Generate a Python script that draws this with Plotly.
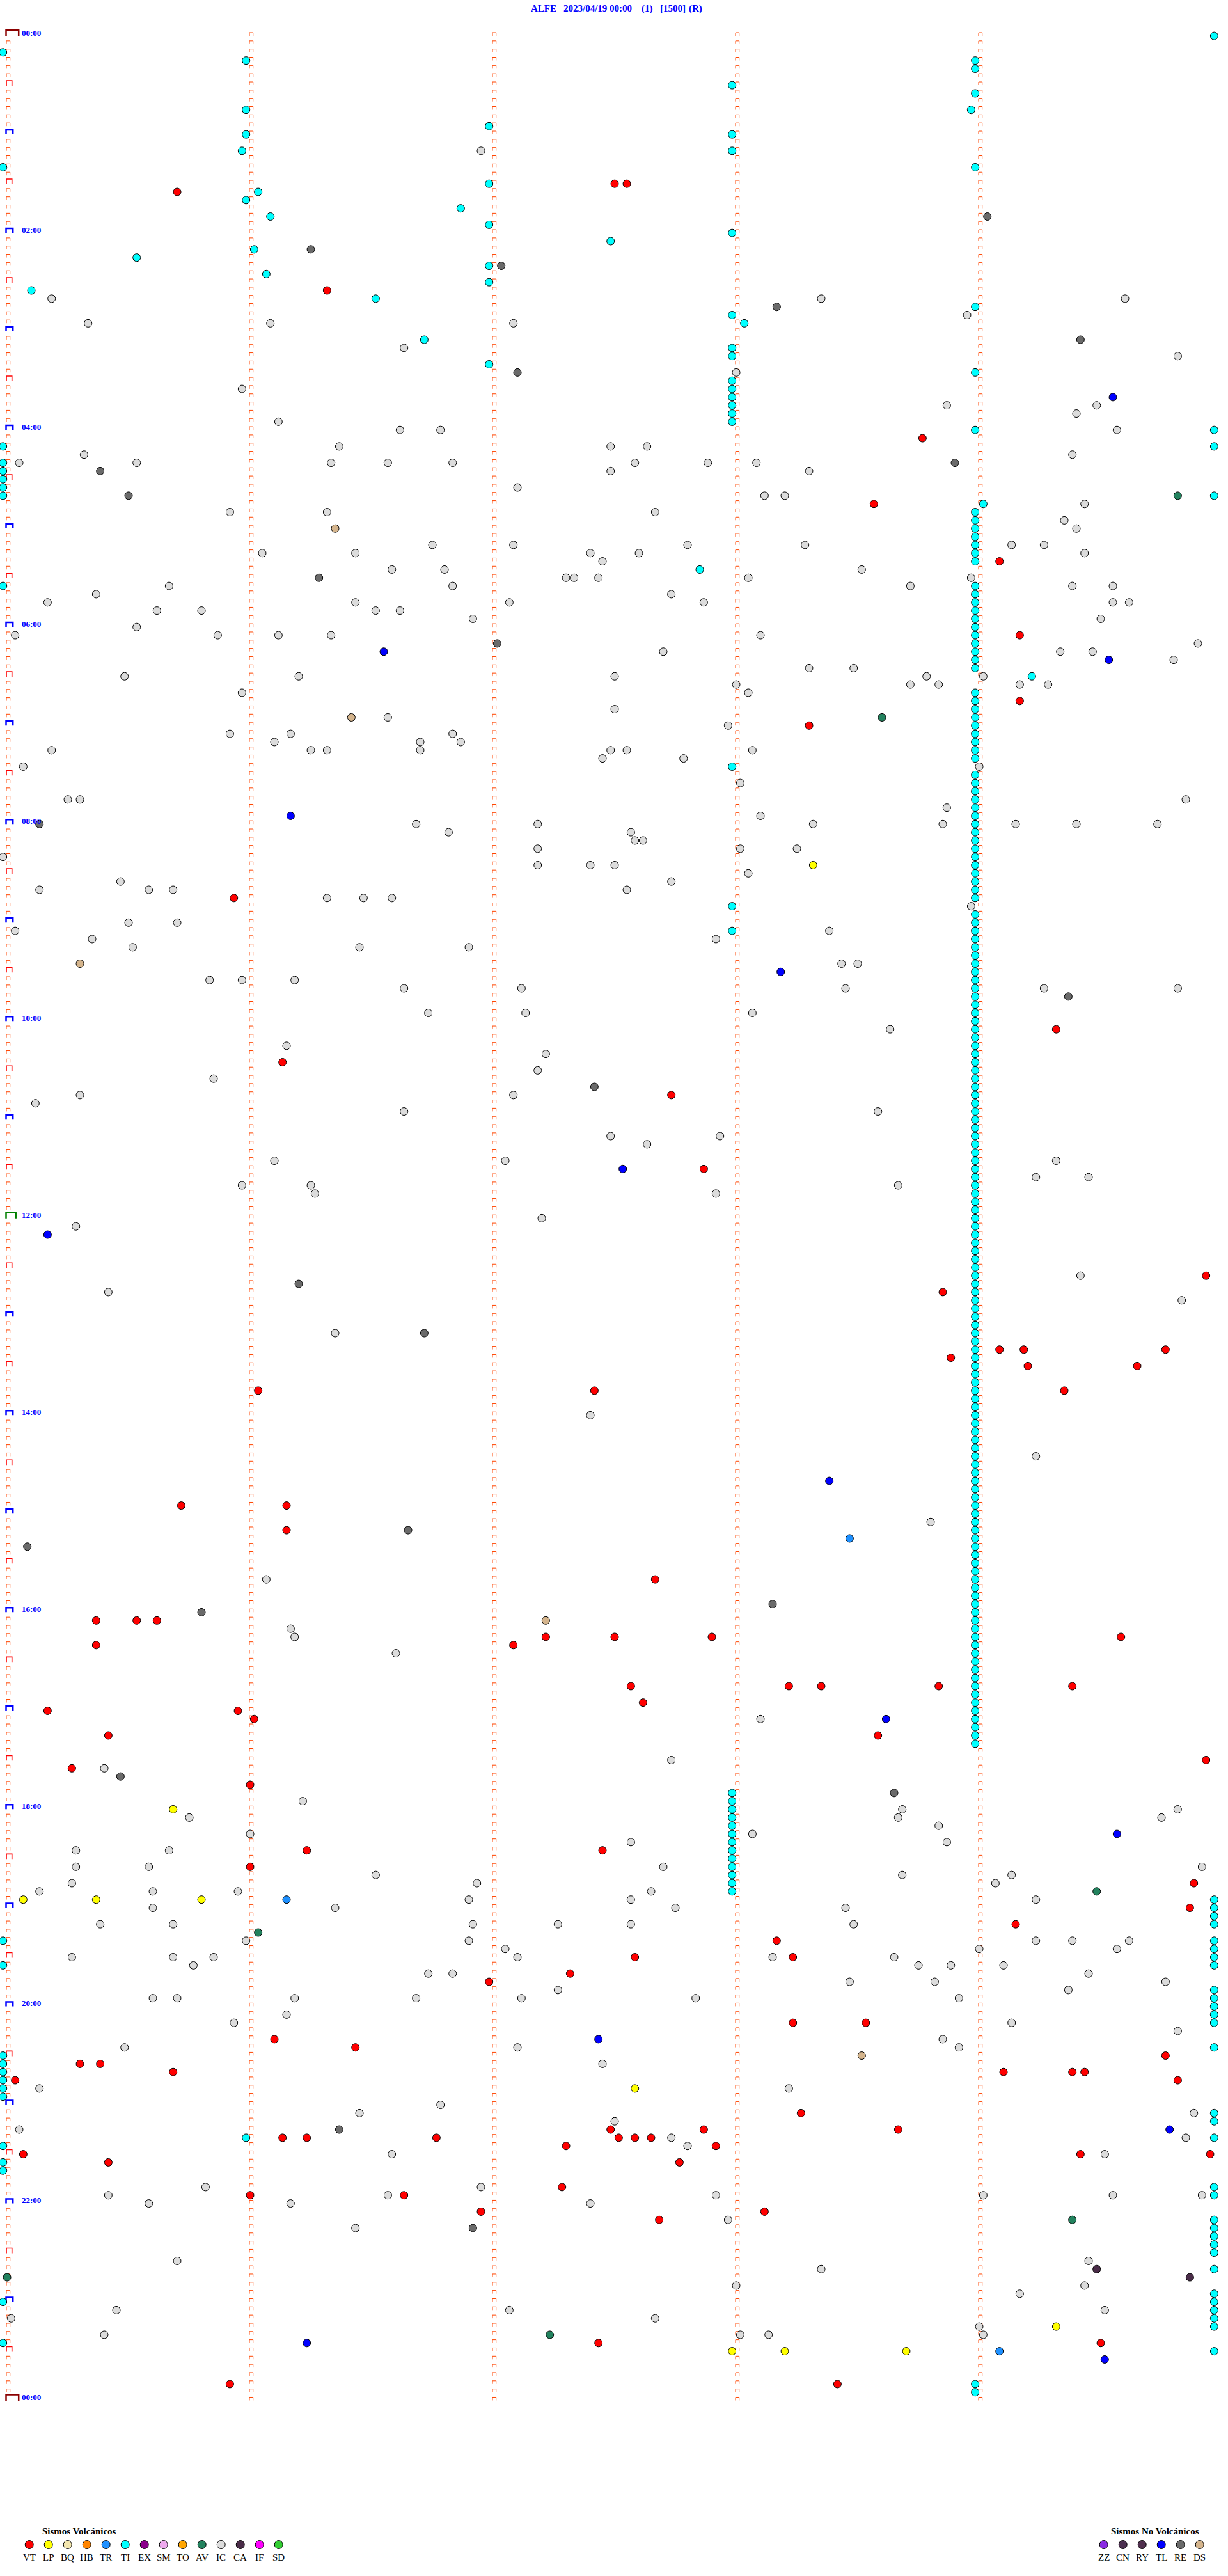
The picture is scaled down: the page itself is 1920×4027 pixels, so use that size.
import plotly.graph_objects as go

# ---------------- data ----------------
estacion = "ALFE"
fecha = "2023/04/19 00:00"
titulo_partes = ["ALFE", "2023/04/19 00:00", "(1)", "[1500]", "(R)"]

horas_etiquetas = ["00:00", "02:00", "04:00", "06:00", "08:00", "10:00", "12:00",
                   "14:00", "16:00", "18:00", "20:00", "22:00", "00:00"]
minutos_etiquetas = [0, 120, 240, 360, 480, 600, 720, 840, 960, 1080, 1200, 1320, 1440]

tipos_volcanicos = ["VT", "LP", "BQ", "HB", "TR", "TI", "EX", "SM", "TO", "AV", "IC", "CA", "IF", "SD"]
tipos_no_volcanicos = ["ZZ", "CN", "RY", "TL", "RE", "DS"]
colores = {
    "VT": "#FF0000", "LP": "#FFFF00", "BQ": "#F3E6AE", "HB": "#FF8400", "TR": "#1E90FF",
    "TI": "#00FFFF", "EX": "#8B008B", "SM": "#EEAAEE", "TO": "#FFA500", "AV": "#23825E",
    "IC": "#DCDCDC", "CA": "#4A2C48", "IF": "#FF00FF", "SD": "#32CD32",
    "ZZ": "#8A2BE2", "CN": "#4C3050", "RY": "#50304E", "TL": "#0000FF", "RE": "#6A6A6A", "DS": "#D4B48C",
}

# event times (HH:MM:SS)
TI = ["00:04:59", "00:10:00", "00:16:00", "00:19:00", "00:24:00", "00:33:00", "00:39:00", "00:46:00",
      "00:48:59", "00:57:00", "01:01:00", "01:03:00", "01:10:59", "01:13:00", "01:20:00", "01:24:00",
      "01:32:00", "01:36:03", "01:41:00", "01:46:53", "01:51:06", "01:57:00", "02:03:00", "02:07:30",
      "02:11:02", "02:15:33", "02:22:00", "02:26:05", "02:32:00", "02:35:07", "02:41:32", "02:49:00",
      "02:53:00", "02:58:03", "03:06:44", "03:13:00", "03:18:00", "03:22:00", "03:29:00", "03:33:00",
      "03:38:00", "03:43:00", "03:48:00", "03:53:00", "03:58:00", "04:04:00", "04:04:59", "04:10:00",
      "04:14:59", "04:20:00", "04:25:00", "04:30:00", "04:35:00", "04:40:00", "04:44:59", "04:49:02",
      "04:54:00", "04:59:00", "05:04:00", "05:09:00", "05:14:00", "05:19:00", "05:24:00", "05:27:52",
      "05:35:00", "05:39:00", "05:44:00", "05:49:00", "05:54:00", "05:59:00",
      "06:34:14", "07:28:00", "08:53:00", "09:08:00",
      "17:53:00", "17:58:00", "18:03:00", "18:08:00", "18:13:00", "18:18:00", "18:23:00", "18:28:00",
      "18:33:00", "18:38:00", "18:43:00", "18:48:00", "18:53:00",
      "18:59:59", "19:04:59", "19:09:59", "19:14:59", "19:24:59", "19:29:59", "19:34:59", "19:39:59",
      "19:54:59", "19:59:59", "20:04:59", "20:09:59", "20:14:59", "20:29:59", "21:09:59", "21:14:59",
      "21:24:59", "21:54:59", "21:59:59", "22:14:59", "22:19:59", "22:24:59", "22:29:59", "22:34:59",
      "22:44:59", "22:59:59", "23:04:59", "23:09:59", "23:14:59", "23:19:59", "23:34:59",
      "19:20:00", "19:35:00", "20:30:00", "20:35:00", "20:40:00", "20:45:00", "20:50:00", "20:55:00",
      "21:25:00", "21:35:00", "21:40:00", "23:00:00", "23:25:00",
      "21:21:00", "23:54:00", "23:59:00"]

TI_columna = ["06:04", "06:09", "06:14", "06:19", "06:24", "06:29", "06:44", "06:49", "06:54", "06:59",
              "07:04", "07:09", "07:14", "07:19", "07:24", "07:34", "07:39", "07:44", "07:49", "07:54", "07:59",
              "08:04", "08:09", "08:14", "08:19", "08:24", "08:29", "08:34", "08:39", "08:44", "08:49", "08:59",
              "09:04", "09:09", "09:14", "09:19", "09:24", "09:29", "09:34", "09:39", "09:44", "09:49", "09:54", "09:59",
              "10:04", "10:09", "10:14", "10:19", "10:24", "10:29", "10:34", "10:39", "10:44", "10:49", "10:54", "10:59",
              "11:04", "11:09", "11:14", "11:19", "11:24", "11:29", "11:34", "11:39", "11:44", "11:49", "11:54", "11:59",
              "12:04", "12:09", "12:14", "12:19", "12:24", "12:29", "12:34", "12:39", "12:44", "12:49", "12:54", "12:59",
              "13:04", "13:09", "13:14", "13:19", "13:24", "13:29", "13:34", "13:39", "13:44", "13:49", "13:54", "13:59",
              "14:04", "14:09", "14:14", "14:19", "14:24", "14:29", "14:34", "14:39", "14:44", "14:49", "14:54", "14:59",
              "15:04", "15:09", "15:14", "15:19", "15:24", "15:29", "15:34", "15:39", "15:44", "15:49", "15:54", "15:59",
              "16:04", "16:09", "16:14", "16:19", "16:24", "16:29", "16:34", "16:39", "16:44", "16:49", "16:54", "16:59",
              "17:04", "17:09", "17:14", "17:19", "17:24"]

IC = ["01:11:58", "02:40:12", "02:43:22", "02:44:37", "02:53:58", "02:55:21", "02:56:06", "02:57:06",
      "03:11:39", "03:19:50", "03:28:01", "03:35:59", "03:48:53", "03:49:30", "03:54:25", "03:56:08",
      "04:01:38", "04:01:48", "04:04:35", "04:11:23", "04:12:30", "04:12:39", "04:15:20", "04:19:24",
      "04:20:04", "04:20:33", "04:21:21", "04:21:35", "04:21:51", "04:22:36", "04:22:54", "04:23:06",
      "04:27:30", "04:28:19", "04:37:07", "04:43:08", "04:43:13", "04:49:27", "04:50:56", "04:51:20",
      "04:52:41", "04:59:22", "05:04:25", "05:11:46", "05:12:06", "05:12:49", "05:13:18", "05:14:09",
      "05:14:17", "05:16:04", "05:16:27", "05:17:25", "05:17:37", "05:19:27", "05:22:28", "05:26:36",
      "05:26:49", "05:28:32", "05:32:19", "05:32:21", "05:32:27", "05:33:04", "05:33:59", "05:35:41",
      "05:36:51", "05:38:44", "05:39:24", "05:39:34", "05:40:23", "05:42:45", "05:45:11", "05:46:27",
      "05:47:05", "05:47:53", "05:49:34", "05:49:38", "05:50:38", "05:50:49", "05:51:32", "05:51:38",
      "05:56:56", "05:59:31",
      "06:00:33", "06:05:03", "06:05:53", "06:06:08", "06:06:21", "06:08:07", "06:14:55", "06:17:43",
      "06:19:21", "06:19:29", "06:24:49", "06:28:19", "06:28:30", "06:30:30", "06:31:13", "06:32:31",
      "06:33:48", "06:34:02", "06:38:01", "06:38:44", "06:38:51", "06:39:11", "06:39:18", "06:40:59",
      "06:43:04", "06:52:31", "06:56:35", "07:02:59", "07:05:56", "07:06:11", "07:06:51", "07:11:07",
      "07:11:43", "07:11:53", "07:15:12", "07:16:16", "07:16:20", "07:16:43", "07:17:30", "07:17:34",
      "07:18:05", "07:22:28", "07:22:48", "07:25:05", "07:29:01", "07:38:02", "07:45:16", "07:45:19",
      "07:49:52", "07:53:53", "07:58:07", "08:01:42", "08:02:12", "08:03:20", "08:03:52", "08:04:10",
      "08:04:25", "08:04:45", "08:06:50", "08:07:35", "08:12:36", "08:12:38", "08:17:12", "08:18:02",
      "08:18:16", "08:20:00", "08:27:12", "08:27:25", "08:27:31", "08:33:04", "08:35:29", "08:37:45",
      "08:40:09", "08:40:36", "08:40:42", "08:42:34", "08:46:20", "08:46:29", "08:46:36", "08:53:59",
      "09:00:31", "09:00:43", "09:05:03", "09:08:24", "09:10:22", "09:12:56", "09:15:32", "09:16:28",
      "09:16:55", "09:28:27", "09:28:31", "09:35:51", "09:35:59", "09:36:12", "09:41:39", "09:42:08",
      "09:43:28", "09:44:17", "09:44:50", "09:56:45", "09:57:09", "09:58:05", "10:08:39", "10:16:10",
      "10:22:14", "10:32:12", "10:35:52", "10:45:19", "10:47:06", "10:50:08", "10:56:39", "10:58:36",
      "11:12:30", "11:12:57", "11:17:39", "11:26:07", "11:27:04", "11:29:20", "11:39:15", "11:39:28",
      "11:40:59", "11:41:16", "11:43:41", "11:46:17", "11:47:56", "12:02:13",
      "12:05:18", "12:39:26", "12:45:26", "12:54:51", "13:11:22", "14:02:25", "14:29:15", "15:08:49",
      "15:41:05", "16:11:11", "16:16:12", "16:26:37", "17:08:07", "17:32:45", "17:35:25", "17:56:14",
      "18:03:42", "18:04:50", "18:05:46", "18:08:41", "18:09:46", "18:13:51", "18:16:01", "18:18:05",
      "18:22:35", "18:23:53", "18:25:18", "18:25:41", "18:35:18", "18:35:36", "18:37:43", "18:39:56",
      "18:41:32", "18:43:42", "18:44:09", "18:45:17", "18:46:57", "18:49:05", "18:50:09", "18:50:37",
      "18:50:58", "18:52:40", "18:56:55", "18:57:35", "18:59:15", "19:00:37", "19:01:22", "19:02:46",
      "19:03:28", "19:10:24", "19:10:42", "19:11:56", "19:12:17", "19:12:35", "19:13:30", "19:21:00",
      "19:21:55", "19:24:15", "19:24:24", "19:24:38", "19:27:04", "19:29:01", "19:29:35", "19:30:17",
      "19:30:42", "19:30:52", "19:32:07", "19:33:10", "19:33:40", "19:35:47", "19:38:46", "19:38:54",
      "19:39:07", "19:41:45", "19:41:51", "19:44:28", "19:48:29", "19:48:50", "19:49:47", "19:52:17",
      "19:54:23", "19:55:37", "19:55:43", "19:56:12", "19:56:42", "19:57:08", "19:57:51", "19:58:56",
      "20:06:10", "20:10:57", "20:14:09", "20:19:50", "20:23:52", "20:25:30", "20:27:07", "20:28:56",
      "20:37:28", "20:50:09", "20:53:14", "21:01:48", "21:06:28", "21:09:54", "21:12:31", "21:15:04",
      "21:22:45", "21:24:52", "21:27:49", "21:31:36", "21:34:32", "21:50:50", "21:51:58", "21:55:26",
      "21:56:35", "21:57:56", "21:59:02", "21:59:34", "21:59:56", "22:00:36", "22:01:11", "22:02:25",
      "22:12:59", "22:16:27", "22:35:43", "22:39:28", "22:43:22", "22:53:01", "22:54:27", "22:59:11",
      "23:05:28", "23:07:05", "23:09:32", "23:10:02", "23:12:41", "23:19:01", "23:20:25", "23:23:02",
      "23:23:09", "23:24:02"]

VT = ["01:32:31", "01:32:34", "01:35:43", "02:36:20", "04:08:47", "04:48:35", "05:24:06", "06:09:11",
      "06:49:11", "07:03:19", "08:45:57", "10:09:20", "10:26:09", "10:47:45", "11:32:53", "12:39:57",
      "12:48:52", "13:24:06", "13:24:12", "13:24:47", "13:28:54", "13:34:13", "13:34:40", "13:46:03",
      "13:47:26", "13:49:22", "14:55:44", "14:56:10", "15:11:10", "15:42:41", "16:05:23", "16:05:33",
      "16:05:38", "16:17:14", "16:17:31", "16:17:55", "16:19:36", "16:20:23", "16:22:06", "16:47:35",
      "16:48:14", "16:48:22", "16:48:51", "16:49:24", "16:57:38", "17:00:11", "17:00:58", "17:06:02",
      "17:15:26", "17:18:36", "17:34:57", "17:35:17", "17:46:01", "18:26:15", "18:27:28", "18:36:01",
      "18:49:54", "19:04:53", "19:14:10", "19:23:11", "19:32:36", "19:33:15", "19:42:20", "19:47:00",
      "20:13:15", "20:13:33", "20:21:07", "20:26:27", "20:34:47", "20:35:19", "20:35:24", "20:40:42",
      "20:44:07", "20:44:24", "20:44:27", "20:45:03", "20:49:50", "21:08:17", "21:17:30", "21:17:53",
      "21:18:41", "21:21:09", "21:21:15", "21:21:47", "21:22:32", "21:22:36", "21:22:40", "21:27:19",
      "21:27:56", "21:30:05", "21:34:26", "21:34:58", "21:35:26", "21:37:47", "21:52:18", "21:56:01",
      "21:56:39", "22:06:58", "22:08:08", "22:12:42", "23:27:27", "23:29:31", "23:50:56", "23:53:26"]

LP = ["08:28:20", "18:00:42", "18:55:05", "18:55:23", "18:55:49", "20:52:36", "23:19:20", "23:33:00",
      "23:33:13", "23:33:43"]
TR = ["15:18:29", "18:56:10", "23:34:06"]
AV = ["04:44:50", "06:58:37", "18:54:30", "19:16:03", "22:14:24", "22:45:01", "23:22:15"]
CA = ["22:44:30", "22:49:53"]
TL = ["03:44:34", "06:16:34", "06:24:33", "07:56:11", "09:33:12", "11:32:33", "12:10:11", "14:43:24",
      "17:08:38", "18:19:35", "20:22:27", "21:19:48", "23:26:15", "23:39:32"]
RE = ["01:54:03", "02:11:16", "02:22:03", "02:48:11", "03:09:26", "03:27:07", "04:23:55", "04:25:24",
      "04:40:31", "05:31:18", "06:12:02", "08:00:09", "09:49:23", "10:42:26", "12:41:13", "13:11:44",
      "15:11:40", "15:20:06", "15:58:10", "16:00:49", "17:40:29", "17:53:40", "21:16:23", "22:16:56"]
DS = ["05:01:22", "06:56:26", "09:25:19", "16:07:14", "20:33:32"]

# ---------------- geometry / style ----------------
W, H = 1920, 4027
PX_PER_COL = 380.0      # pixels per minute column
X0_PX = 12.7            # pixel of column line 0
PX_PER_MIN = 2.567      # vertical pixels per minute of day
Y0_PX = 51.0            # pixel of 00:00
ROW_MIN = 5             # each row covers 5 minutes
ROW_CENTER = 2.0        # marker center below row start (minutes)
MARKER_SHIFT = 8.0 / PX_PER_COL
N_COLS = 5

def px_x(p):
    return p / PX_PER_COL

def px_y(p):
    return p / PX_PER_MIN

def to_sec(t):
    parts = [int(v) for v in t.split(":")]
    s = parts[2] if len(parts) > 2 else 0
    return parts[0] * 3600 + parts[1] * 60 + s

def place(times):
    xs, ys = [], []
    for t in times:
        s = to_sec(t)
        row = s // (ROW_MIN * 60)
        xs.append((s - row * ROW_MIN * 60) / 60.0 - MARKER_SHIFT)
        ys.append(row * ROW_MIN + ROW_CENTER)
    return xs, ys

fig = go.Figure()

# ---- row tick brackets ----
rows = list(range(0, 24 * 60 + 1, ROW_MIN))

def bracket(cols, mins, l, r, t, b):
    xs, ys = [], []
    for c in cols:
        for m in mins:
            xl, xr = c + px_x(l), c + px_x(r)
            yt, yb = m + px_y(t), m + px_y(b)
            xs += [xl, xl, xr, xr, None]
            ys += [yb, yt, yt, yb, None]
    return xs, ys

small_left = [m for m in rows if m % 30 != 0]
red_left = [m for m in rows if m % 30 == 0 and m % 60 != 0]
blue_left = [m for m in rows if m % 60 == 0 and m not in (0, 720, 1440)]
dark_left = [0, 1440]
green_left = [720]

def add_br(xs, ys, color, width):
    fig.add_trace(go.Scatter(x=xs, y=ys, mode="lines", line=dict(color=color, width=width),
                             hoverinfo="skip", showlegend=False))

xs, ys = bracket([1, 2, 3, 4], rows, -2.7, 3.0, 0.0, 5.0)
x2, y2 = bracket([0], small_left, -2.7, 3.0, 0.0, 5.0)
add_br(xs + x2, ys + y2, "#FF4500", 1)
xs, ys = bracket([0], red_left, -2.7, 6.0, -2.0, 6.0)
add_br(xs, ys, "#FF0000", 1.6)
xs, ys = bracket([0], blue_left, -3.2, 7.5, -2.0, 5.0)
add_br(xs, ys, "#0000FF", 2.5)
xs, ys = bracket([0], dark_left, -3.2, 16.5, -4.0, 5.5)
add_br(xs, ys, "#8B0000", 2.5)
xs, ys = bracket([0], green_left, -3.2, 12.0, -4.0, 5.5)
add_br(xs, ys, "#008000", 2.5)

# ---- events ----
series = [("TI", TI + [t + ":00" for t in TI_columna]), ("IC", IC), ("RE", RE), ("DS", DS), ("AV", AV),
          ("TL", TL), ("VT", VT), ("LP", LP), ("TR", TR), ("CA", CA)]
for tipo, times in series:
    x, y = place(times)
    fig.add_trace(go.Scatter(x=x, y=y, mode="markers", name=tipo,
                             marker=dict(size=12, color=colores[tipo], line=dict(color="black", width=1)),
                             hoverinfo="skip", showlegend=False, cliponaxis=False))

# ---- legend (pixel overlay axes) ----
leg_y = 3978
lab_y = 3998
xv = [45.7 + 30 * i for i in range(len(tipos_volcanicos))]
xn = [1725.7 + 30 * i for i in range(len(tipos_no_volcanicos))]
fig.add_trace(go.Scatter(x=xv + xn, y=[leg_y] * (len(xv) + len(xn)), xaxis="x2", yaxis="y2",
                         mode="markers", hoverinfo="skip", showlegend=False,
                         marker=dict(size=13, color=[colores[t] for t in tipos_volcanicos + tipos_no_volcanicos],
                                     line=dict(color="black", width=1))))

ann = []
SERIF = "Liberation Serif"
for t, xx in zip(tipos_volcanicos + tipos_no_volcanicos, xv + xn):
    ann.append(dict(x=xx, y=lab_y, xref="x2", yref="y2", text=t, showarrow=False,
                    xanchor="center", yanchor="middle", font=dict(family=SERIF, size=15, color="black")))
ann.append(dict(x=124, y=3957, xref="x2", yref="y2", text="<b>Sismos Volcánicos</b>", showarrow=False,
                xanchor="center", yanchor="middle", font=dict(family=SERIF, size=15, color="black")))
ann.append(dict(x=1806, y=3957, xref="x2", yref="y2", text="<b>Sismos No Volcánicos</b>", showarrow=False,
                xanchor="center", yanchor="middle", font=dict(family=SERIF, size=15, color="black")))

# title pieces
title_x = [850, 934, 1012, 1052, 1087]
for txt, xx in zip(titulo_partes, title_x):
    ann.append(dict(x=xx, y=13, xref="x2", yref="y2", text="<b>" + txt + "</b>", showarrow=False,
                    xanchor="center", yanchor="middle", font=dict(family=SERIF, size=15, color="#0000FF")))

# hour labels
for lab, m in zip(horas_etiquetas, minutos_etiquetas):
    ann.append(dict(x=32, y=m, xref="x2", yref="y", text="<b>" + lab + "</b>", showarrow=False,
                    xanchor="left", yanchor="middle", font=dict(family=SERIF, size=13, color="#0000FF")))

fig.update_layout(
    width=W, height=H, margin=dict(l=0, r=0, t=0, b=0, pad=0),
    paper_bgcolor="white", plot_bgcolor="white", showlegend=False, hovermode=False,
    xaxis=dict(range=[-X0_PX / PX_PER_COL, (W - X0_PX) / PX_PER_COL], visible=False, domain=[0, 1]),
    yaxis=dict(range=[(H - Y0_PX) / PX_PER_MIN, -Y0_PX / PX_PER_MIN], visible=False, domain=[0, 1]),
    xaxis2=dict(range=[0, W], visible=False, overlaying="x", domain=[0, 1]),
    yaxis2=dict(range=[H, 0], visible=False, overlaying="y", domain=[0, 1]),
    annotations=ann,
)

fig.write_html("out.html", config={"displayModeBar": False},
               post_script="document.body.style.margin='0';document.body.style.overflow='hidden';")
